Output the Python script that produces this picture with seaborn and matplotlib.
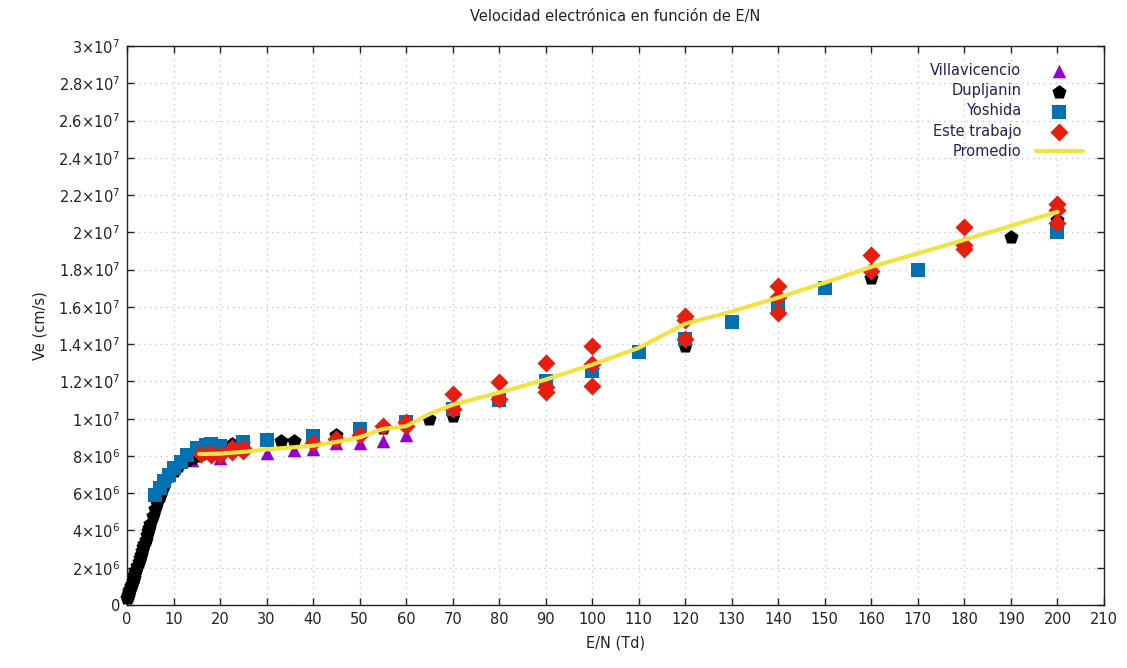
import numpy as np
import pandas as pd
import matplotlib
matplotlib.use("Agg")
import matplotlib.pyplot as plt
from matplotlib.ticker import FuncFormatter, MultipleLocator
import seaborn as sns

# ---------------- data ----------------
villa_x = [14, 20, 30, 36, 40, 45, 50, 55, 60]
villa_y = [7.8e6, 7.9e6, 8.15e6, 8.3e6, 8.35e6, 8.7e6, 8.7e6, 8.8e6, 9.1e6]

dup_x = [0.1, 0.2, 0.3, 0.4, 0.5, 0.6, 0.8, 1.0, 1.2, 1.4, 1.6, 1.8, 2.0, 2.25, 2.5,
         2.75, 3.0, 3.25, 3.5, 3.75, 4.0, 4.25, 4.5, 4.75, 5.0, 5.5, 6.0, 6.5, 7.0,
         7.5, 8.0, 9.0, 10, 11, 12, 13, 14, 15, 16, 17, 18, 20, 22.5, 25, 33, 36,
         45, 55, 60, 65, 70, 80, 90, 100, 120, 140, 160, 180, 190, 200]
dup_y = [0.35e6, 0.45e6, 0.55e6, 0.65e6, 0.75e6, 0.85e6, 1.0e6, 1.15e6, 1.3e6, 1.45e6,
         1.6e6, 1.75e6, 1.9e6, 2.1e6, 2.3e6, 2.5e6, 2.7e6, 2.9e6, 3.1e6, 3.3e6, 3.5e6,
         3.75e6, 3.95e6, 4.15e6, 4.35e6, 4.75e6, 5.15e6, 5.5e6, 5.85e6, 6.15e6, 6.45e6,
         6.9e6, 7.2e6, 7.45e6, 7.65e6, 7.8e6, 7.9e6, 8.0e6, 8.1e6, 8.2e6, 8.3e6, 8.45e6,
         8.65e6, 8.65e6, 8.8e6, 8.8e6, 9.1e6, 9.5e6, 9.7e6, 10.0e6, 10.15e6, 11.0e6,
         12.0e6, 12.6e6, 13.9e6, 15.8e6, 17.55e6, 19.2e6, 19.75e6, 20.65e6]

yosh_x = [6, 7, 8, 9, 10, 11.5, 13, 15, 17, 18, 20, 25, 30, 40, 50, 60, 70, 80, 90,
          100, 110, 120, 130, 140, 150, 170, 200]
yosh_y = [5.9e6, 6.3e6, 6.65e6, 7.0e6, 7.35e6, 7.65e6, 8.05e6, 8.4e6, 8.6e6, 8.65e6,
          8.55e6, 8.75e6, 8.85e6, 9.05e6, 9.45e6, 9.8e6, 10.5e6, 11.0e6, 12.0e6,
          12.55e6, 13.6e6, 14.3e6, 15.2e6, 16.0e6, 17.0e6, 18.0e6, 20.0e6]

este_x = [16, 18, 18, 20, 22.5, 22.5, 25, 25, 40, 45, 50, 55, 60, 60, 70, 70, 80, 80,
          90, 90, 90, 100, 100, 100, 120, 120, 120, 140, 140, 140, 160, 160, 180, 180,
          180, 200, 200, 200]
este_y = [8.1e6, 8.05e6, 8.15e6, 8.05e6, 8.2e6, 8.4e6, 8.25e6, 8.4e6, 8.7e6, 8.9e6,
          9.15e6, 9.6e6, 9.8e6, 9.6e6, 11.3e6, 10.5e6, 11.95e6, 11.05e6, 13.0e6,
          11.7e6, 11.45e6, 13.9e6, 12.95e6, 11.75e6, 15.5e6, 15.3e6, 14.25e6, 17.1e6,
          16.55e6, 15.65e6, 18.8e6, 17.9e6, 20.3e6, 19.3e6, 19.1e6, 21.5e6, 21.2e6,
          20.5e6]

prom_x = [15.5, 20, 25, 30, 40, 45, 50, 55, 60, 65, 70, 80, 90, 100, 110, 120, 130,
          140, 150, 160, 180, 200]
prom_y = [8.1e6, 8.12e6, 8.22e6, 8.35e6, 8.55e6, 8.75e6, 9.0e6, 9.45e6, 9.6e6,
          10.25e6, 10.75e6, 11.4e6, 12.1e6, 12.9e6, 13.8e6, 15.1e6, 15.75e6, 16.5e6,
          17.3e6, 18.15e6, 19.6e6, 21.1e6]

x_ticks = list(range(0, 211, 10))

# ---------------- style ----------------
sns.set_theme(style="white")
plt.rcParams["font.family"] = ["DejaVu Sans"]
plt.rcParams["mathtext.fontset"] = "dejavusans"
plt.rcParams["mathtext.default"] = "regular"

fig = plt.figure(figsize=(11.27, 6.68), dpi=100)
ax = fig.add_axes([127 / 1127, 1 - 605 / 668, (1104 - 127) / 1127, (605 - 46) / 668])

c_villa = "#9400d3"
c_dup = "#000000"
c_yosh = "#0072b2"
c_este = "#e51e10"
c_prom = "#f0e442"

ms = 95
sns.scatterplot(x=villa_x, y=villa_y, ax=ax, marker="^", color=c_villa, s=ms,
                linewidth=0, label="Villavicencio", clip_on=False, zorder=3)
sns.scatterplot(x=dup_x, y=dup_y, ax=ax, marker="p", color=c_dup, s=ms + 20,
                linewidth=0, label="Dupljanin", clip_on=False, zorder=3)
sns.scatterplot(x=yosh_x, y=yosh_y, ax=ax, marker="s", color=c_yosh, s=ms,
                linewidth=0, label="Yoshida", clip_on=False, zorder=3)
sns.scatterplot(x=este_x, y=este_y, ax=ax, marker="D", color=c_este, s=ms - 10,
                linewidth=0, label="Este trabajo", clip_on=False, zorder=3)
sns.lineplot(x=prom_x, y=prom_y, ax=ax, color=c_prom, linewidth=3.0,
             label="Promedio", zorder=4, sort=True)

ax.set_xlim(0, 210)
ax.set_ylim(0, 3e7)
ax.set_xticks(x_ticks)
ax.yaxis.set_major_locator(MultipleLocator(2e6))


def yfmt(v, pos):
    if v == 0:
        return "0"
    e = int(np.floor(np.log10(abs(v)) + 1e-9))
    m = v / 10 ** e
    return rf"${m:g}{{\times}}10^{{{e}}}$"


ax.yaxis.set_major_formatter(FuncFormatter(yfmt))

ax.grid(True, which="major", color="#c8c8c8", linestyle=(0, (1, 3)), linewidth=1.0)
ax.set_axisbelow(True)
for sp in ax.spines.values():
    sp.set_visible(True)
    sp.set_color("#222222")
    sp.set_linewidth(1.0)
ax.tick_params(axis="both", which="major", direction="in", length=5, width=1,
               top=True, right=True, bottom=True, left=True, labelsize=10.5,
               colors="#222222", pad=5)
ax.tick_params(axis="both", labelcolor="#222222")

ax.set_xlabel("E/N (Td)", fontsize=10.5, color="#222222", labelpad=6)
ax.set_ylabel("Ve (cm/s)", fontsize=10.5, color="#222222", labelpad=8)
ax.set_title("Velocidad electrónica en función de E/N", fontsize=10.5,
             color="#222222", pad=18)

leg = ax.legend(loc="upper right", bbox_to_anchor=(0.99, 0.99), frameon=False,
                markerfirst=False, fontsize=10.5, handlelength=3.2,
                labelspacing=0.35, handletextpad=1.0, borderpad=0.3)
for t in leg.get_texts():
    t.set_color("#222255")

fig.savefig("out.png", dpi=100)
